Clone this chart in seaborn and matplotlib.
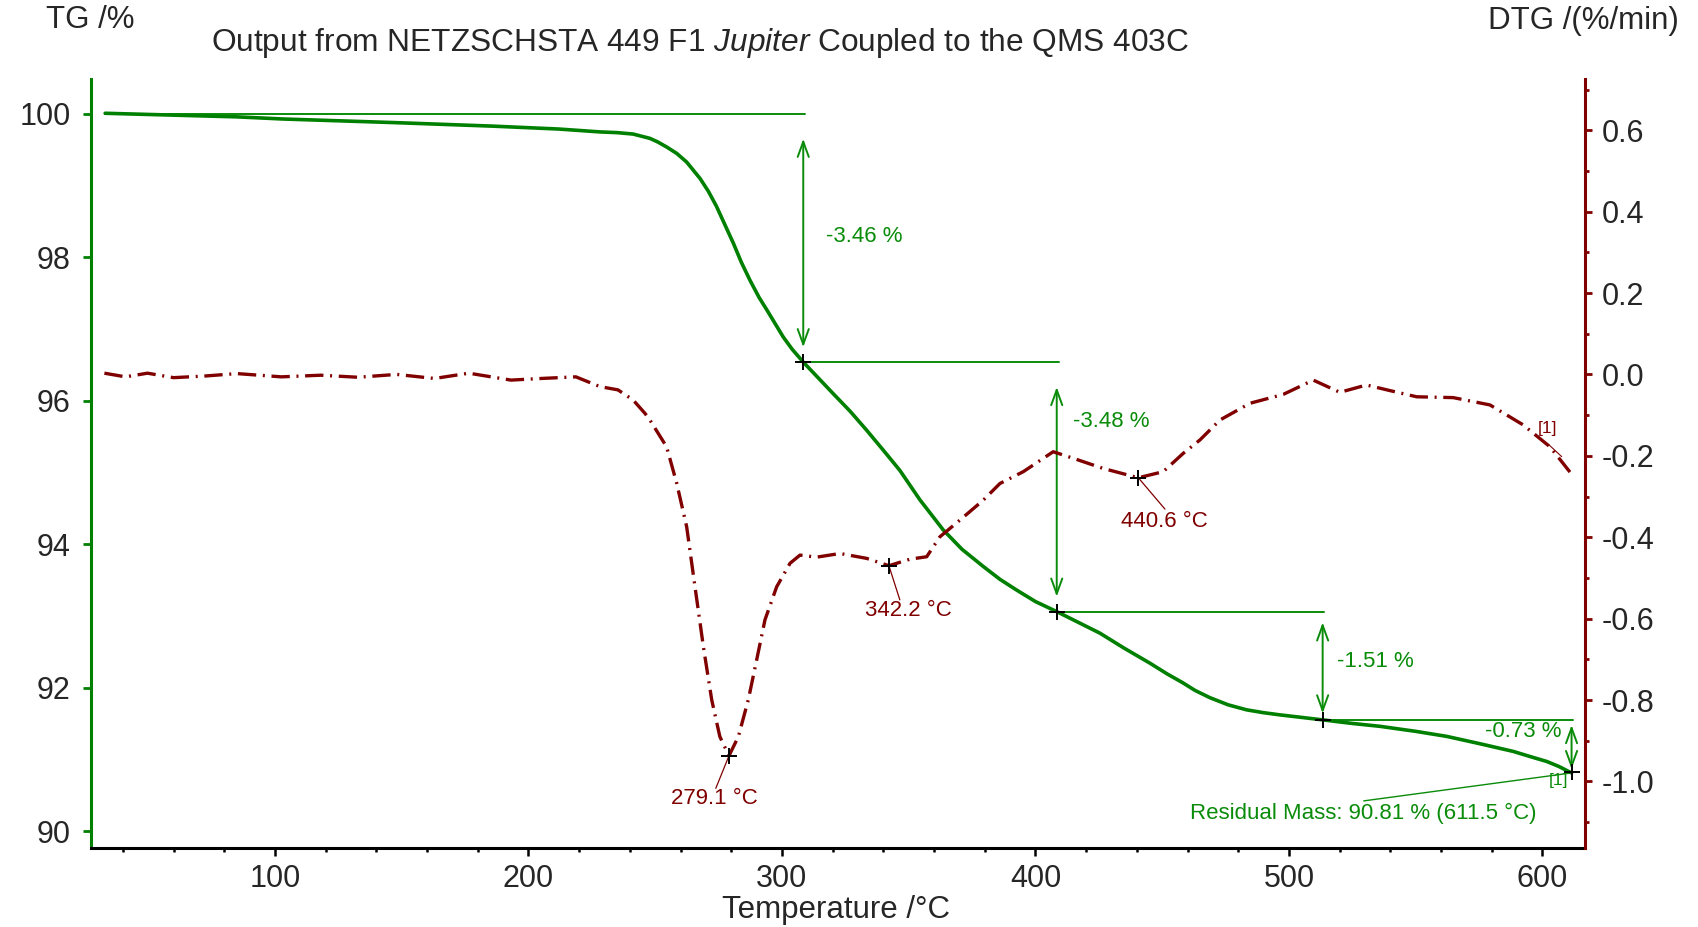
import matplotlib
matplotlib.use("Agg")
import matplotlib.pyplot as plt
from matplotlib.ticker import MultipleLocator
import numpy as np
import seaborn as sns

# ---- measured curves -------------------------------------------------------
tg_temp = [33.0, 85.0, 103.2, 147.0, 186.3, 212.0, 228.2, 235.0, 241.3, 247.9,
           251.0, 254.5, 258.5, 262.4, 267.7, 271.0, 274.2, 280.8, 284.0, 287.4,
           291.0, 294.0, 300.5, 304.0, 308.4, 320.2, 327.0, 333.4, 340.0, 346.5,
           354.4, 363.6, 371.0, 379.4, 386.0, 392.6, 400.0, 408.4, 425.4, 435.0,
           445.2, 452.0, 458.0, 463.0, 468.8, 476.0, 483.3, 490.0, 496.4, 513.3,
           525.0, 535.9, 550.0, 562.2, 575.0, 588.5, 595.0, 601.7, 606.5, 611.5]
tg_mass = [100.01, 99.96, 99.93, 99.88, 99.83, 99.79, 99.75, 99.74, 99.72, 99.66,
           99.61, 99.54, 99.45, 99.33, 99.10, 98.92, 98.71, 98.20, 97.93, 97.68,
           97.44, 97.27, 96.89, 96.72, 96.54, 96.10, 95.85, 95.59, 95.31, 95.03,
           94.62, 94.20, 93.93, 93.69, 93.51, 93.36, 93.20, 93.06, 92.76, 92.55,
           92.34, 92.19, 92.07, 91.96, 91.86, 91.76, 91.69, 91.65, 91.62, 91.55,
           91.50, 91.46, 91.39, 91.32, 91.22, 91.11, 91.04, 90.97, 90.90, 90.81]

dtg_temp = [32.7, 41.0, 49.7, 60.0, 72.3, 85.0, 102.5, 118.0, 132.7, 148.0,
            162.9, 176.5, 193.1, 205.0, 218.7, 228.2, 235.3, 241.3, 246.0, 247.9,
            254.5, 258.5, 262.4, 265.7, 269.0, 272.3, 275.5, 279.1, 282.8, 286.7,
            290.0, 293.3, 297.9, 303.2, 307.1, 313.7, 322.9, 333.4, 342.2, 350.5,
            357.1, 362.3, 370.2, 379.4, 386.0, 395.2, 407.0, 416.3, 426.7, 440.6,
            450.4, 458.3, 464.9, 472.8, 484.6, 497.8, 509.6, 520.1, 530.6, 540.0,
            550.4, 564.8, 579.3, 592.4, 603.0, 611.5]
dtg_rate = [0.003, -0.006, 0.003, -0.008, -0.004, 0.002, -0.006, -0.002, -0.007, 0.000,
            -0.010, 0.003, -0.014, -0.010, -0.006, -0.030, -0.038, -0.063, -0.096, -0.112,
            -0.178, -0.268, -0.374, -0.522, -0.669, -0.800, -0.890, -0.937, -0.890, -0.800,
            -0.702, -0.603, -0.522, -0.464, -0.444, -0.449, -0.440, -0.452, -0.470, -0.454,
            -0.448, -0.399, -0.358, -0.309, -0.268, -0.239, -0.190, -0.209, -0.231, -0.254,
            -0.239, -0.194, -0.161, -0.112, -0.071, -0.049, -0.014, -0.044, -0.026, -0.040,
            -0.055, -0.057, -0.075, -0.124, -0.178, -0.245]

# ---- evaluation results ----------------------------------------------------
step_temps = [33.0, 308.4, 408.4, 513.3, 611.5]
step_losses = [-3.46, -3.48, -1.51, -0.73]
peak_temps = [279.1, 342.2, 440.6]
peak_rates = [-0.937, -0.470, -0.254]
residual_mass = 90.81
residual_temp = 611.5

x_ticks = [100, 200, 300, 400, 500, 600]
tg_ticks = [90, 92, 94, 96, 98, 100]
dtg_ticks = [-1.0, -0.8, -0.6, -0.4, -0.2, 0.0, 0.2, 0.4, 0.6]

# ---- style -----------------------------------------------------------------
sns.set_style("ticks")
plt.rcParams["font.family"] = ["Liberation Sans", "DejaVu Sans"]
plt.rcParams["mathtext.fontset"] = "custom"
plt.rcParams["mathtext.rm"] = "Liberation Sans"
plt.rcParams["mathtext.it"] = "Liberation Sans:italic"

TG_GREEN = "#008000"
ANN_GREEN = "#0a8c0a"
DTG_RED = "#800000"
TICK_FS = 22
CAPTION_FS = 22.5
ANN_FS = 16

fig = plt.figure(figsize=(16.99, 9.27), dpi=100)
fig.subplots_adjust(left=90.7 / 1699, right=1585 / 1699,
                    bottom=1 - 848 / 927, top=1 - 79 / 927)
ax = fig.add_subplot(111)
ax2 = ax.twinx()

# curves
sns.lineplot(x=tg_temp, y=tg_mass, ax=ax, color=TG_GREEN, linewidth=2.6,
             sort=False, estimator=None, zorder=3)
sns.lineplot(x=dtg_temp, y=dtg_rate, ax=ax2, color=DTG_RED, linewidth=2.4,
             sort=False, estimator=None, linestyle=(0, (5.5, 2, 0.6, 2)), zorder=2)

# axes ranges
ax.set_xlim(27.3, 616.8)
ax.set_ylim(89.763, 100.488)
ax2.set_ylim(-1.1636, 0.7258)

ax.set_xticks(x_ticks)
ax.xaxis.set_minor_locator(MultipleLocator(20))
ax.set_yticks(tg_ticks)
ax.set_yticklabels([f"{v:d}" for v in tg_ticks])
ax2.set_yticks(dtg_ticks)
ax2.set_yticklabels([f"{v:.1f}" for v in dtg_ticks])
ax2.yaxis.set_minor_locator(MultipleLocator(0.1))

ax.set_xlabel("")
ax.set_ylabel("")
ax2.set_ylabel("")

for a in (ax, ax2):
    a.spines["top"].set_visible(False)
    a.grid(False)
ax.spines["right"].set_visible(False)
ax2.spines["left"].set_visible(False)
ax2.spines["bottom"].set_visible(False)
ax.spines["left"].set_color(TG_GREEN)
ax.spines["left"].set_linewidth(2.2)
ax.spines["bottom"].set_color("black")
ax.spines["bottom"].set_linewidth(2.2)
ax2.spines["right"].set_color(DTG_RED)
ax2.spines["right"].set_linewidth(2.2)

ax.tick_params(axis="x", which="major", direction="out", length=5.5, width=1.8,
               color="black", labelsize=TICK_FS, pad=6)
ax.tick_params(axis="x", which="minor", direction="out", length=2.6, width=1.8,
               color="black")
ax.tick_params(axis="y", which="major", direction="out", length=5.5, width=2.0,
               color=TG_GREEN, labelsize=TICK_FS, pad=9)
ax2.tick_params(axis="y", which="major", direction="out", length=5.0, width=2.0,
                color=DTG_RED, labelsize=TICK_FS, pad=7)
ax2.tick_params(axis="y", which="minor", direction="out", length=2.6, width=2.0,
                color=DTG_RED)

# ---- mass-loss steps -------------------------------------------------------
levels = [100.0]
for loss in step_losses:
    levels.append(round(levels[-1] + loss, 2))

for i, loss in enumerate(step_losses):
    t0, t1 = step_temps[i], step_temps[i + 1]
    top, bottom = levels[i], levels[i + 1]
    ax.plot([t0, t1 + 0.7], [top, top], color=ANN_GREEN, lw=1.4, zorder=2)
    gap = 0.1 * abs(loss)
    ax.annotate("", xy=(t1, top - gap), xytext=(t1, bottom + gap * 0.6),
                arrowprops=dict(arrowstyle="<->,head_length=0.55,head_width=0.2",
                                color=ANN_GREEN, lw=1.4, shrinkA=0, shrinkB=0,
                                mutation_scale=20), zorder=2)
    ax.plot([t1], [bottom], marker="+", color="black", markersize=11,
            markeredgewidth=1.4, zorder=5)

step_label_pos = [(317.2, 98.29, "left"), (414.7, 95.71, "left"),
                  (519.1, 92.36, "left"), (607.7, 91.385, "right")]
for (tx, ty, ha), loss in zip(step_label_pos, step_losses):
    ax.text(tx, ty, f"{loss:.2f} %", color=ANN_GREEN, fontsize=ANN_FS,
            ha=ha, va="center", zorder=6)

# residual mass
ax.plot([529.5, residual_temp], [90.42, residual_mass], color=ANN_GREEN, lw=1.0, zorder=2)
ax.text(529.2, 90.25, f"Residual Mass: {residual_mass:.2f} % ({residual_temp:.1f} °C)",
        color=ANN_GREEN, fontsize=ANN_FS, ha="center", va="center")
ax.text(606.5, 90.71, "[1]", color=ANN_GREEN, fontsize=12.5, ha="center", va="center")

# ---- DTG peaks ---------------------------------------------------------------
peak_label_pos = [(273.5, -1.042, 273.9, -1.017),
                  (349.8, -0.581, 346.5, -0.554),
                  (450.7, -0.362, 451.1, -0.331)]
for t, r, (lx, ly, ex, ey) in zip(peak_temps, peak_rates, peak_label_pos):
    ax2.plot([t, ex], [r, ey], color=DTG_RED, lw=0.9, zorder=3)
    ax2.plot([t], [r], marker="+", color="black", markersize=11,
             markeredgewidth=1.4, zorder=5)
    ax2.text(lx, ly, f"{t:.1f} °C", color=DTG_RED, fontsize=ANN_FS,
             ha="center", va="center")

ax2.text(602.2, -0.132, "[1]", color=DTG_RED, fontsize=12.5, ha="center", va="center")
ax2.plot([602.4, 607.6], [-0.172, -0.202], color=DTG_RED, lw=0.8)

# ---- titles and axis captions -----------------------------------------------
fig.text(700 / 1699, 1 - 43 / 927,
         r"Output from NETZSCHSTA 449 F1 $\mathit{Jupiter}$ Coupled to the QMS 403C",
         ha="center", va="center", fontsize=22.8)
fig.text(90 / 1699, 1 - 20 / 927, "TG /%", ha="center", va="center", fontsize=CAPTION_FS)
fig.text(1583 / 1699, 1 - 21 / 927, "DTG /(%/min)", ha="center", va="center",
         fontsize=CAPTION_FS)
fig.text(836.5 / 1699, 1 - 910 / 927, "Temperature /°C", ha="center", va="center",
         fontsize=CAPTION_FS)

fig.savefig("out.png", dpi=100)
